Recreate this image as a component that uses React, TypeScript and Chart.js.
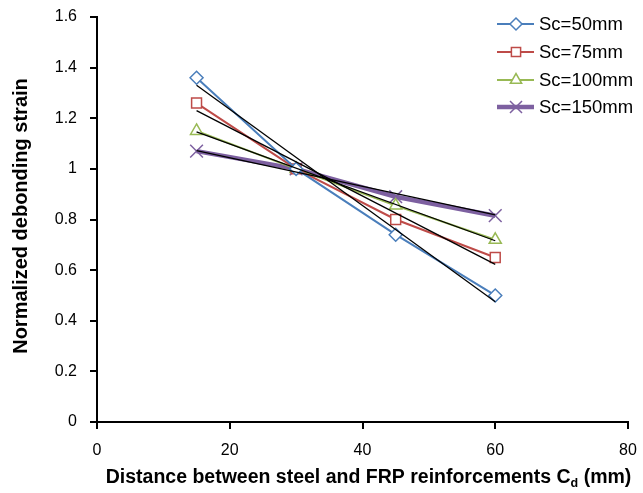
import React, { useEffect, useRef } from "react";
import { Chart, registerables } from "chart.js";

Chart.register(...registerables);

const xValues = [15, 30, 45, 60];
const sc50 = [1.36, 1.0, 0.74, 0.5];
const sc75 = [1.26, 1.0, 0.8, 0.65];
const sc100 = [1.15, 1.0, 0.855, 0.72];
const sc150 = [1.07, 1.0, 0.89, 0.815];

const trendX = [15, 60];
const trend50 = [1.33, 0.475];
const trend75 = [1.23, 0.623];
const trend100 = [1.146, 0.716];
const trend150 = [1.072, 0.818];

const seriesNames = ["Sc=50mm", "Sc=75mm", "Sc=100mm", "Sc=150mm"];
const xTicks = [0, 20, 40, 60, 80];
const yTickLabels = ["0", "0.2", "0.4", "0.6", "0.8", "1", "1.2", "1.4", "1.6"];

const FONT = "'Liberation Sans', Arial, sans-serif";

const colors = ["#4A7EBB", "#BE4B48", "#98B954", "#7D60A0"];
const pointStyles = ["rectRot", "rect", "triangle", "crossRot"];
const radii = [6.5, 7, 7, 9];
const lineWidths = [2, 2, 2, 4.5];

const toPts = (xs: number[], ys: number[]) => xs.map((x, i) => ({ x, y: ys[i] }));

function drawMarker(ctx: CanvasRenderingContext2D, style: string, r: number, x: number, y: number, color: string) {
  ctx.save();
  ctx.strokeStyle = color;
  ctx.fillStyle = "#ffffff";
  ctx.lineWidth = 1.5;
  ctx.beginPath();
  if (style === "rectRot") {
    ctx.moveTo(x, y - r);
    ctx.lineTo(x + r, y);
    ctx.lineTo(x, y + r);
    ctx.lineTo(x - r, y);
    ctx.closePath();
    ctx.fill();
    ctx.stroke();
  } else if (style === "rect") {
    const s = r * Math.SQRT1_2;
    ctx.rect(x - s, y - s, 2 * s, 2 * s);
    ctx.fill();
    ctx.stroke();
  } else if (style === "triangle") {
    const a = (r * 3) / Math.sqrt(3);
    const h = (a * Math.sqrt(3)) / 2;
    ctx.moveTo(x - a / 2, y + h / 3);
    ctx.lineTo(x + a / 2, y + h / 3);
    ctx.lineTo(x, y - (2 * h) / 3);
    ctx.closePath();
    ctx.fill();
    ctx.stroke();
  } else {
    const o = Math.cos(Math.PI / 4) * r;
    ctx.moveTo(x - o, y - o);
    ctx.lineTo(x + o, y + o);
    ctx.moveTo(x + o, y - o);
    ctx.lineTo(x - o, y + o);
    ctx.stroke();
  }
  ctx.restore();
}

const customPlugin = {
  id: "customDraw",
  afterDraw(chart: any) {
    const ctx: CanvasRenderingContext2D = chart.ctx;
    ctx.save();
    ctx.fillStyle = "#000";
    ctx.textBaseline = "alphabetic";
    const mainFont = `bold 19.5px ${FONT}`;
    const subFont = `bold 12.5px ${FONT}`;
    const part1 = "Distance between steel and FRP reinforcements C";
    const part2 = "d";
    const part3 = " (mm)";
    ctx.font = mainFont;
    const w1 = ctx.measureText(part1).width;
    const w3 = ctx.measureText(part3).width;
    ctx.font = subFont;
    const w2 = ctx.measureText(part2).width;
    const total = w1 + w2 + w3;
    const cx = 368.5;
    let x = cx - total / 2;
    const baseY = 483;
    ctx.font = mainFont;
    ctx.textAlign = "left";
    ctx.fillText(part1, x, baseY);
    x += w1;
    ctx.font = subFont;
    ctx.fillText(part2, x, baseY + 4);
    x += w2;
    ctx.font = mainFont;
    ctx.fillText(part3, x, baseY);

    ctx.save();
    ctx.translate(21, 216);
    ctx.rotate(-Math.PI / 2);
    ctx.textAlign = "center";
    ctx.textBaseline = "middle";
    ctx.font = `bold 20px ${FONT}`;
    ctx.fillText("Normalized debonding strain", 0, 0);
    ctx.restore();

    const legendY = [24, 52, 80, 107];
    for (let i = 0; i < 4; i++) {
      const y = legendY[i];
      ctx.strokeStyle = colors[i];
      ctx.lineWidth = lineWidths[i];
      ctx.beginPath();
      ctx.moveTo(497, y);
      ctx.lineTo(534, y);
      ctx.stroke();
      drawMarker(ctx, pointStyles[i], radii[i] - 0.5, 516, y, colors[i]);
      ctx.fillStyle = "#000";
      ctx.font = `18.5px ${FONT}`;
      ctx.textAlign = "left";
      ctx.textBaseline = "middle";
      ctx.fillText(seriesNames[i], 539, y + 1);
    }
    ctx.restore();
  },
};

export default function App() {
  const ref = useRef<HTMLCanvasElement>(null);
  useEffect(() => {
    document.body.style.margin = "0";
    const seriesData = [sc50, sc75, sc100, sc150];
    const trendData = [trend50, trend75, trend100, trend150];
    const datasets: any[] = [];
    seriesData.forEach((ys, i) => {
      datasets.push({
        label: seriesNames[i],
        data: toPts(xValues, ys),
        borderColor: colors[i],
        backgroundColor: "#ffffff",
        borderWidth: lineWidths[i],
        pointStyle: pointStyles[i],
        pointRadius: radii[i],
        pointBorderColor: colors[i],
        pointBackgroundColor: "#ffffff",
        pointBorderWidth: 1.5,
        tension: 0,
        order: 2,
      });
    });
    trendData.forEach((ys, i) => {
      datasets.push({
        label: "trend " + seriesNames[i],
        data: toPts(trendX, ys),
        borderColor: "#000000",
        borderWidth: 1.3,
        pointRadius: 0,
        tension: 0,
        order: 1,
      });
    });

    const gridOpts = {
      drawOnChartArea: false,
      drawTicks: true,
      tickLength: 7,
      color: "#000",
      lineWidth: 2,
    };

    const zeroPad = (scale: any) => {
      scale.paddingTop = 0;
      scale.paddingBottom = 0;
      scale.paddingLeft = 0;
      scale.paddingRight = 0;
    };

    const chart = new Chart(ref.current!, {
      type: "line",
      data: { datasets },
      options: {
        animation: false,
        responsive: false,
        maintainAspectRatio: false,
        layout: { padding: { left: 0, right: 15, top: 17, bottom: 0 } },
        plugins: {
          legend: { display: false },
          tooltip: { enabled: false },
        },
        scales: {
          x: {
            type: "linear",
            min: 0,
            max: 80,
            afterBuildTicks: (scale: any) => {
              scale.ticks = xTicks.map((v) => ({ value: v }));
            },
            afterFit: (scale: any) => {
              scale.height = 71;
              zeroPad(scale);
            },
            ticks: {
              font: { family: FONT, size: 16 },
              color: "#000",
              padding: 12,
              maxRotation: 0,
            },
            grid: gridOpts,
            border: { display: true, color: "#000", width: 2 },
          },
          y: {
            type: "linear",
            min: 0,
            max: 1.6,
            afterBuildTicks: (scale: any) => {
              scale.ticks = yTickLabels.map((s) => ({ value: parseFloat(s) }));
            },
            afterFit: (scale: any) => {
              scale.width = 97;
              zeroPad(scale);
            },
            ticks: {
              font: { family: FONT, size: 16 },
              color: "#000",
              padding: 13,
              callback: (v: any) => {
                const idx = yTickLabels.findIndex((s) => Math.abs(parseFloat(s) - v) < 1e-6);
                return idx >= 0 ? yTickLabels[idx] : "";
              },
            },
            grid: gridOpts,
            border: { display: true, color: "#000", width: 2 },
          },
        },
      },
      plugins: [customPlugin as any],
    });
    return () => chart.destroy();
  }, []);
  return (
    <div style={{ width: 643, height: 493 }}>
      <canvas ref={ref} width={643} height={493} style={{ display: "block" }} />
    </div>
  );
}
